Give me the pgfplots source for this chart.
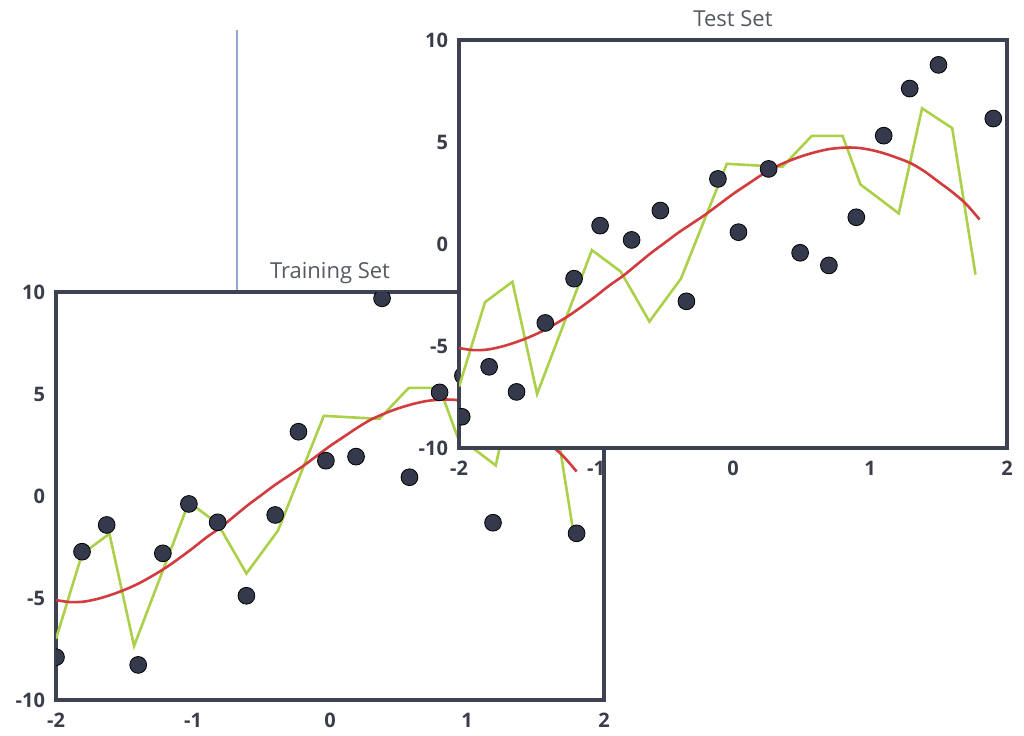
\documentclass[border=0pt]{standalone}
\usepackage{fontspec}
\setmainfont{Open Sans}
\usepackage{pgfplots}
\usepackage{pgfplotstable}
\pgfplotsset{compat=1.18}
\definecolor{axisc}{RGB}{61,65,82}
\definecolor{dotc}{RGB}{52,58,76}
\definecolor{greenc}{RGB}{172,208,74}
\definecolor{redc}{RGB}{210,60,62}
\definecolor{titlec}{RGB}{85,89,98}
\definecolor{tickc}{RGB}{58,61,74}
\definecolor{bluel}{RGB}{140,168,204}

\pgfplotstableread{
x y
-2.00 -7.00
-1.81 -2.85
-1.61 -1.85
-1.43 -7.35
-1.03 -0.30
-0.82 -1.35
-0.61 -3.80
-0.38 -1.70
-0.045 3.93
0.36 3.78
0.575 5.30
0.80 5.30
0.93 2.92
1.21 1.50
1.38 6.65
1.60 5.68
1.77 -1.50
}\greenmodel

\pgfplotstableread{
x y
-2.0 -5.10
-1.9 -5.20
-1.8 -5.18
-1.7 -5.05
-1.6 -4.85
-1.5 -4.60
-1.4 -4.30
-1.3 -3.93
-1.2 -3.52
-1.1 -3.05
-1.0 -2.55
-0.9 -2.02
-0.8 -1.55
-0.7 -1.00
-0.6 -0.45
-0.5 0.05
-0.4 0.55
-0.3 1.00
-0.2 1.45
-0.1 1.95
0.0 2.45
0.1 2.90
0.2 3.35
0.3 3.75
0.4 4.05
0.5 4.30
0.6 4.50
0.7 4.65
0.8 4.72
0.9 4.72
1.0 4.62
1.1 4.45
1.2 4.22
1.3 3.95
1.4 3.55
1.5 3.05
1.6 2.55
1.7 1.97
1.8 1.20
}\redmodel

\pgfplotstableread{
x y
-2.00 -7.90
-1.81 -2.73
-1.63 -1.42
-1.40 -8.28
-1.22 -2.81
-1.03 -0.39
-0.82 -1.29
-0.61 -4.89
-0.40 -0.93
-0.23 3.15
-0.03 1.73
0.19 1.93
0.38 9.69
0.58 0.92
0.80 5.08
0.97 5.90
1.19 -1.31
1.40 6.50
1.60 4.00
1.80 -1.83
2.00 5.00
}\traindots

\pgfplotstableread{
x y
-1.98 -8.47
-1.78 -6.02
-1.58 -7.25
-1.37 -3.87
-1.16 -1.70
-0.97 0.90
-0.74 0.20
-0.53 1.64
-0.34 -2.81
-0.11 3.19
0.04 0.58
0.26 3.68
0.49 -0.43
0.70 -1.05
0.90 1.31
1.10 5.31
1.29 7.62
1.50 8.78
1.90 6.15
}\testdots

\pgfplotsset{
  panel/.style={
    scale only axis, width=274pt, height=204pt,
    xmin=-2, xmax=2, ymin=-10, ymax=10,
    xtick={-2,-1,0,1,2}, xticklabels={-2,-1,0,1,2},
    ytick={-10,-5,0,5,10}, yticklabels={-10,-5,0,5,10},
    major tick length=0pt,
    axis line style={draw=axisc, line width=1.6pt},
    tick label style={font=\bfseries\fontsize{10}{12}\selectfont, text=tickc},
    xticklabel style={yshift=-3pt},
    yticklabel style={xshift=-2pt},
    title style={font=\fontsize{11}{13}\selectfont, text=titlec, anchor=base, yshift=1pt},
    clip marker paths=true,
    axis background/.style={fill=white},
  },
  greenline/.style={draw=greenc, line width=1.3pt, no markers, line join=miter},
  redline/.style={draw=redc, line width=1.3pt, no markers, smooth},
  dots/.style={only marks, mark=*, mark size=4.2pt, mark options={fill=dotc, draw=none}},
}

\begin{document}
\begin{tikzpicture}
\useasboundingbox (-28pt,-17.5pt) rectangle (484pt,350pt);
\draw[bluel, line width=0.6pt] (90.5pt,204.5pt) -- (90.5pt,335pt);

\begin{axis}[panel, at={(0pt,0pt)}, anchor=south west, title={Training Set}]
\addplot[greenline] table {\greenmodel};
\addplot[redline] table {\redmodel};
\addplot[dots] table {\traindots};
\end{axis}

\begin{axis}[panel, at={(201.5pt,126pt)}, anchor=south west, title={Test Set}]
\addplot[greenline] table {\greenmodel};
\addplot[redline] table {\redmodel};
\addplot[dots] table {\testdots};
\end{axis}
\end{tikzpicture}
\end{document}
